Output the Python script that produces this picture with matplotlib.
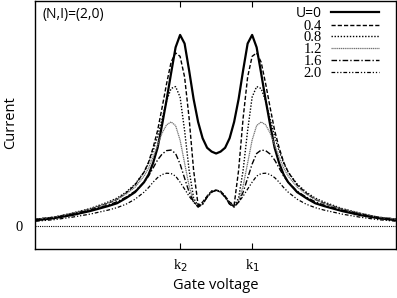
import numpy as np
import matplotlib
matplotlib.use('Agg')
import matplotlib.pyplot as plt

# gate voltage grid (left half, k2=-1, k1=+1), mirrored for the right half
x_left = [-5, -4.5, -4, -3.5, -3, -2.75, -2.5, -2.25, -2, -1.875, -1.75, -1.625,
          -1.5, -1.375, -1.25, -1.125, -1, -0.875, -0.75, -0.625, -0.5, -0.375,
          -0.25, -0.125, 0]

# current (left half)
i_u00 = [0.031, 0.042, 0.058, 0.079, 0.105, 0.120, 0.147, 0.178, 0.230, 0.270, 0.330,
         0.410, 0.530, 0.660, 0.800, 0.935, 1.000, 0.955, 0.815, 0.665, 0.545, 0.460,
         0.410, 0.390, 0.380]
i_u04 = [0.037, 0.047, 0.065, 0.089, 0.120, 0.140, 0.173, 0.215, 0.283, 0.335, 0.410,
         0.500, 0.620, 0.745, 0.858, 0.906, 0.888, 0.780, 0.565, 0.293, 0.110, 0.126,
         0.157, 0.183, 0.188]
i_u08 = [0.037, 0.047, 0.068, 0.092, 0.126, 0.147, 0.178, 0.220, 0.283, 0.330, 0.393,
         0.470, 0.560, 0.655, 0.720, 0.730, 0.675, 0.500, 0.293, 0.147, 0.105, 0.120,
         0.157, 0.183, 0.188]
i_u12 = [0.037, 0.047, 0.068, 0.089, 0.120, 0.141, 0.168, 0.204, 0.262, 0.304, 0.361,
         0.424, 0.487, 0.530, 0.545, 0.526, 0.450, 0.330, 0.210, 0.131, 0.100, 0.115,
         0.152, 0.178, 0.188]
i_u16 = [0.034, 0.045, 0.063, 0.084, 0.110, 0.128, 0.152, 0.183, 0.230, 0.262, 0.304,
         0.346, 0.377, 0.395, 0.398, 0.380, 0.325, 0.251, 0.178, 0.126, 0.100, 0.115,
         0.152, 0.178, 0.188]
i_u20 = [0.026, 0.034, 0.047, 0.063, 0.084, 0.097, 0.115, 0.141, 0.178, 0.202, 0.230,
         0.254, 0.270, 0.277, 0.275, 0.262, 0.230, 0.194, 0.157, 0.126, 0.105, 0.115,
         0.152, 0.178, 0.188]

labels = ['U=0', '0.4', '0.8', '1.2', '1.6', '2.0']


def full(v):
    v = list(v)
    return v + v[-2::-1]


x = [*x_left, *[-t for t in x_left[-2::-1]]]

styles = [
    dict(color='black', lw=1.6, ls='-'),
    dict(color='black', lw=1.0, ls=(0, (3, 1.5))),
    dict(color='black', lw=1.0, ls=(0, (1, 1.2))),
    dict(color='0.45', lw=0.9, ls=(0, (1, 0.5))),
    dict(color='black', lw=1.0, ls=(0, (4, 1.5, 1, 1.5))),
    dict(color='black', lw=0.9, ls=(0, (3, 1.5, 1, 1.5, 1, 1.5))),
]

fig = plt.figure(figsize=(3.97, 2.98), dpi=100)
ax = fig.add_axes([0.088, 0.164, 0.91, 0.833])

for vals, lab, st in zip([i_u00, i_u04, i_u08, i_u12, i_u16, i_u20], labels, styles):
    ax.plot(x, full(vals), label=lab, **st)

ax.axhline(0, color='black', lw=0.8, ls=(0, (1, 1)))

ax.set_xlim(-5.03, 5.0)
ax.set_ylim(-0.12, 1.178)

ax.set_xticks([-1, 1])
ax.set_xticklabels(['k$_2$', 'k$_1$'], fontfamily='Liberation Serif', fontsize=10.5)
ax.set_yticks([0])
ax.set_yticklabels(['0'], fontfamily='Liberation Serif', fontsize=10.5)
ax.tick_params(axis='x', direction='in', length=4, top=True, width=0.8, pad=6)
ax.tick_params(axis='y', direction='in', length=0, pad=9)

ax.set_xlabel('Gate voltage', fontfamily='Open Sans', fontsize=10.5, labelpad=3)
ax.set_ylabel('Current', fontfamily='Open Sans', fontsize=10.5)
ax.yaxis.set_label_coords(-0.047, 0.51)

ax.text(0.022, 0.975, '(N,I)=(2,0)', transform=ax.transAxes, va='top', ha='left',
        fontfamily='Open Sans', fontsize=10)

leg = ax.legend(loc='upper right', bbox_to_anchor=(0.952, 0.98), frameon=False,
                markerfirst=False, handlelength=3.3, handletextpad=0.6,
                labelspacing=-0.1, borderpad=0, borderaxespad=0,
                prop={'family': 'Liberation Serif', 'size': 10.5})
leg.get_texts()[0].set_fontfamily('Open Sans')
leg.get_texts()[0].set_fontsize(10)

for s in ax.spines.values():
    s.set_linewidth(1.0)

fig.savefig('out.png', dpi=100)
